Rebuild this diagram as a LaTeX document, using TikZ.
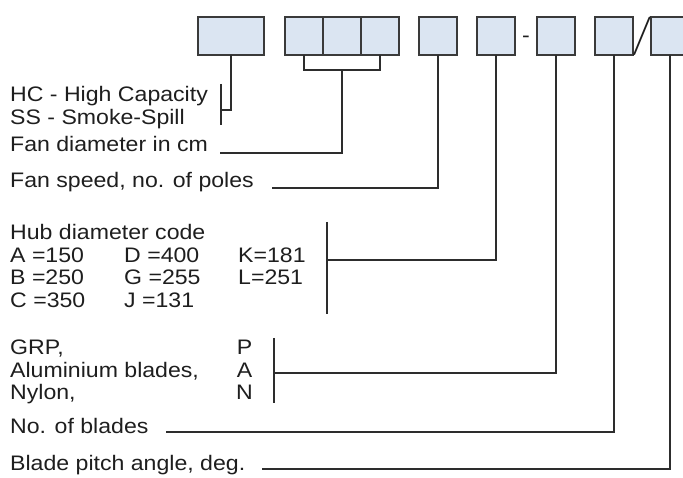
\documentclass[tikz,border=0pt]{standalone}
\usepackage{fontspec}
\setmainfont{Liberation Sans}[FakeStretch=1.1]
\newfontfamily\thinfont{Lato Light}
\usepackage{xcolor}
\usepackage{tikz}
\usetikzlibrary{positioning, calc}
\definecolor{codefill}{RGB}{219,229,242}
\definecolor{codeedge}{RGB}{58,58,58}
\definecolor{leadline}{RGB}{45,45,45}
\definecolor{labeltext}{RGB}{30,30,30}
\tikzset{
    codebox/.style={rectangle, draw=codeedge, fill=codefill, line width=1.5pt, minimum width=38pt, minimum height=38pt, inner sep=0pt, outer sep=0pt},
    sepmark/.style={inner sep=0pt, text=labeltext, anchor=base, font=\fontsize{21}{21}\selectfont},
    desctext/.style={anchor=base west, inner sep=0pt, text=labeltext, font=\fontsize{21}{22.5}\selectfont},
    lead/.style={line width=1.3pt, color=leadline}
}

\begin{document}
\begin{tikzpicture}[x=1pt, y=-1pt]
    \useasboundingbox (0,0) rectangle (683,478);

    % code boxes
    \node (b1) [codebox, minimum width=66pt] at (231,36) {};
    \node (g1) [codebox, right=21pt of b1] {};
    \node (g2) [codebox, right=0pt of g1] {};
    \node (g3) [codebox, right=0pt of g2] {};
    \node (b4) [codebox, right=20pt of g3] {};
    \node (b5) [codebox, right=20pt of b4] {};
    \node (b6) [codebox, right=22pt of b5] {};
    \node (b7) [codebox, right=20pt of b6] {};
    \node (b8) [codebox, right=18pt of b7] {};
    \node (dash) [sepmark] at ($(b5.east)!0.5!(b6.west) + (0,7)$) {-};
    \node (slash) [sepmark, font=\thinfont\fontsize{50}{50}\selectfont] at ($(b7.east)!0.5!(b8.west) + (0,18)$) {/};

    % descriptions
    \node (hc) [desctext] at (10,102) {\begin{tabular}[t]{@{}l@{}}HC - High Capacity\\SS - Smoke-Spill\end{tabular}};
    \node (diam) [desctext] at (10,152) {Fan diameter in cm};
    \node (speed) [desctext] at (10,188) {Fan speed, no. of poles};
    \node (hub) [desctext] at (10,240) {\begin{tabular}[t]{@{}l@{}}Hub diameter code\\
        \makebox[114pt][l]{A =150}\makebox[114pt][l]{D =400}K=181\\
        \makebox[114pt][l]{B =250}\makebox[114pt][l]{G =255}L=251\\
        \makebox[114pt][l]{C =350}\makebox[114pt][l]{J =131}\end{tabular}};
    \node (mat) [desctext] at (10,355) {\begin{tabular}[t]{@{}p{226pt}@{}c@{}}GRP, & P\\Aluminium blades, & A\\Nylon, & N\end{tabular}};
    \node (blades) [desctext] at (10,433) {No. of blades};
    \node (pitch) [desctext] at (10,470) {Blade pitch angle, deg.};

    \coordinate (hcjoin) at (221,110);
    \coordinate (grpjoin) at ($(g2.south)+(0,15)$);
    \coordinate (diamend) at (220,153);
    \coordinate (speedend) at (272,188);
    \coordinate (hubjoin) at (327,260);
    \coordinate (matjoin) at (274,373);
    \coordinate (bladesend) at (166,432);
    \coordinate (pitchend) at (262,469);

    % leader lines
    \draw [lead] (b1.south) |- (hcjoin);
    \draw [lead] ($(hcjoin)+(0,-26)$) -- ($(hcjoin)+(0,15)$);
    \draw [lead] (g1.south) |- (grpjoin) -| (g3.south);
    \draw [lead] (grpjoin) |- (diamend);
    \draw [lead] (b4.south) |- (speedend);
    \draw [lead] (b5.south) |- (hubjoin);
    \draw [lead] ($(hubjoin)+(0,-38)$) -- ($(hubjoin)+(0,54)$);
    \draw [lead] (b6.south) |- (matjoin);
    \draw [lead] ($(matjoin)+(0,-35)$) -- ($(matjoin)+(0,30)$);
    \draw [lead] (b7.south) |- (bladesend);
    \draw [lead] (b8.south) |- (pitchend);
\end{tikzpicture}
\end{document}
